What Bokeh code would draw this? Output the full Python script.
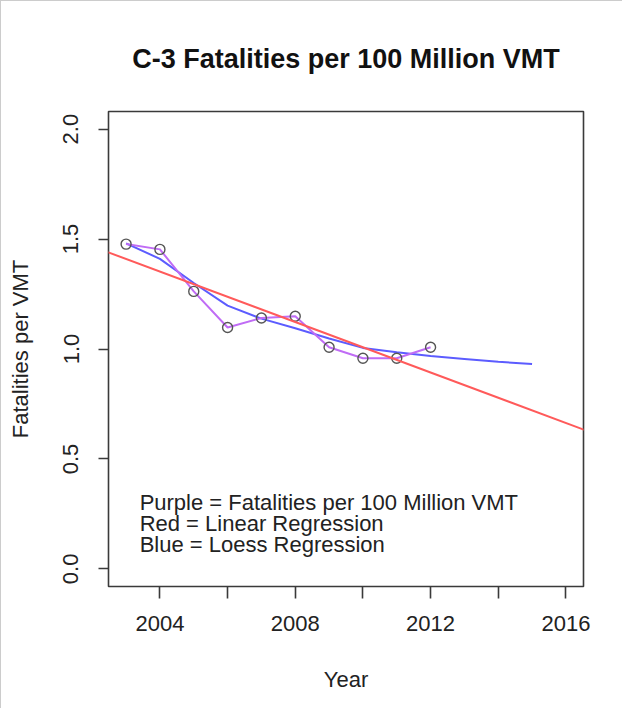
import numpy as np
from bokeh.plotting import figure
from bokeh.models import Range1d, FixedTicker, NumeralTickFormatter, Slope, Label
from bokeh.embed import file_html
from bokeh.resources import INLINE

# ---- data ----
years = [2003, 2004, 2005, 2006, 2007, 2008, 2009, 2010, 2011, 2012]
fatalities = [1.477, 1.453, 1.262, 1.098, 1.141, 1.149, 1.008, 0.958, 0.958, 1.008]

loess_years = [2003, 2004, 2005, 2006, 2007, 2008, 2009, 2010, 2011, 2012, 2013, 2014, 2015]
loess_values = [1.48, 1.41, 1.30, 1.197, 1.138, 1.094, 1.048, 1.005, 0.985, 0.968, 0.955, 0.942, 0.932]

x_ticks = [2004, 2006, 2008, 2010, 2012, 2014, 2016]
x_hidden_labels = [2006, 2010, 2014]
y_ticks = [0.0, 0.5, 1.0, 1.5, 2.0]

legend_lines = [
    "Purple = Fatalities per 100 Million VMT",
    "Red = Linear Regression",
    "Blue = Loess Regression",
]

FONT = "Liberation Sans"
TXT = "#222222"
AX = "#3a3a3a"

p = figure(
    width=622, height=708,
    min_border_left=107, min_border_right=40,
    min_border_top=110, min_border_bottom=123,
    x_range=Range1d(2002.48, 2016.52),
    y_range=Range1d(-0.08, 2.08),
    output_backend="svg", toolbar_location=None,
    title="C-3 Fatalities per 100 Million VMT",
)
p.styles = {"border-left": "1px solid #cccccc", "border-top": "1px solid #cccccc"}

p.title.align = "center"
p.title.text_font = FONT
p.title.text_font_size = "27px"
p.title.text_font_style = "bold"
p.title.text_color = "#111111"
p.title.standoff = 75

p.xgrid.visible = False
p.ygrid.visible = False
p.outline_line_color = AX
p.outline_line_width = 1.6
p.background_fill_color = "white"
p.border_fill_color = "white"

# x axis
xa = p.xaxis[0]
xa.ticker = FixedTicker(ticks=x_ticks)
xa.major_label_overrides = {t: "" for t in x_hidden_labels}
xa.minor_tick_line_color = None
xa.major_tick_in = 0
xa.major_tick_out = 12
xa.major_tick_line_color = AX
xa.major_tick_line_width = 1.6
xa.axis_line_color = None
xa.major_label_text_font = FONT
xa.major_label_text_font_size = "22px"
xa.major_label_text_color = TXT
xa.major_label_standoff = 17
xa.axis_label = "Year"
xa.axis_label_text_font = FONT
xa.axis_label_text_font_size = "22px"
xa.axis_label_text_font_style = "normal"
xa.axis_label_text_color = TXT
xa.axis_label_standoff = 33

# y axis
ya = p.yaxis[0]
ya.ticker = FixedTicker(ticks=y_ticks)
ya.formatter = NumeralTickFormatter(format="0.0")
ya.minor_tick_line_color = None
ya.major_tick_in = 0
ya.major_tick_out = 10
ya.major_tick_line_color = AX
ya.major_tick_line_width = 1.6
ya.axis_line_color = None
ya.major_label_orientation = "vertical"
ya.major_label_text_font = FONT
ya.major_label_text_font_size = "22px"
ya.major_label_text_color = TXT
ya.major_label_standoff = 20
ya.axis_label = "Fatalities per VMT"
ya.axis_label_text_font = FONT
ya.axis_label_text_font_size = "22px"
ya.axis_label_text_font_style = "normal"
ya.axis_label_text_color = TXT
ya.axis_label_standoff = 28

# linear regression (abline across the full plot)
slope, intercept = np.polyfit(years, fatalities, 1)
p.add_layout(Slope(gradient=float(slope), y_intercept=float(intercept),
                   line_color="#ff5a5a", line_width=2))

# loess curve
p.line(loess_years, loess_values, line_color="#5c5cff", line_width=2)

# purple data line + points
p.line(years, fatalities, line_color="#c06cf5", line_width=2)
p.scatter(years, fatalities, size=10, marker="circle", fill_color=None,
          line_color="#555555", line_width=1.4)

# legend text
for i, txt in enumerate(legend_lines):
    p.add_layout(Label(x=2003.40, y=0.30 - i * 0.095, text=txt,
                       text_font=FONT, text_font_size="22px",
                       text_color=TXT, text_baseline="middle", text_align="left"))

open("out.html", "w").write(file_html(p, INLINE))
